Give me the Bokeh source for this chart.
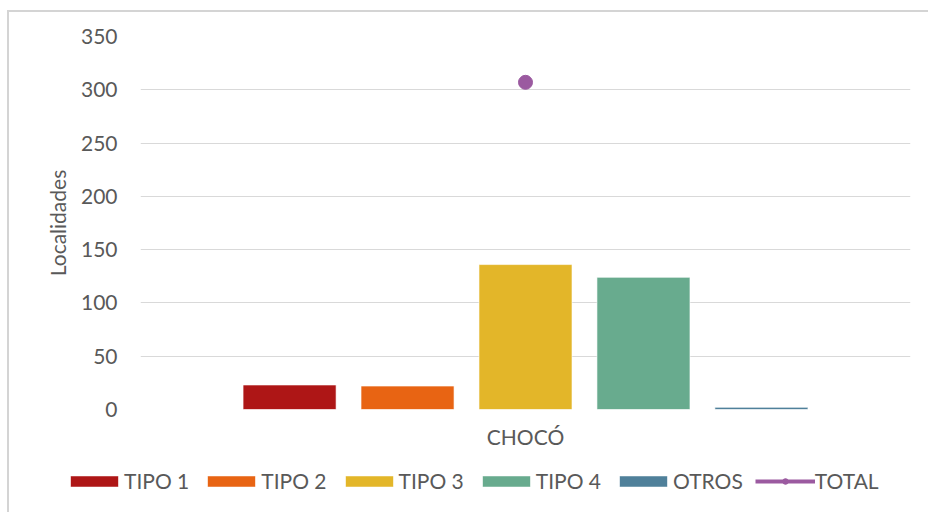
from bokeh.plotting import figure
from bokeh.layouts import column
from bokeh.models import ColumnDataSource, FactorRange, Range1d, Legend, LegendItem
from bokeh.transform import dodge
from bokeh.embed import file_html
from bokeh.resources import INLINE

# Localidades por tipo, departamento del Chocó
departments = ["CHOCÓ"]
series_names = ["TIPO 1", "TIPO 2", "TIPO 3", "TIPO 4", "OTROS"]
tipo_1 = [23]
tipo_2 = [22]
tipo_3 = [136]
tipo_4 = [124]
otros = [2]
total = [307]
y_ticks = [0, 50, 100, 150, 200, 250, 300, 350]

series_values = [tipo_1, tipo_2, tipo_3, tipo_4, otros]
colors = ["#AE1616", "#E86413", "#E3B629", "#68AB8E", "#4F809A"]
total_color = "#9B5AA0"

FONT = "Lato"
TEXT = "#595959"
GRID = "#D9D9D9"
FS = "21px"
W = 919

x_range = FactorRange(*departments)
step = 0.1532
bar_w = 0.1208

# main chart
p = figure(
    width=W, height=445,
    x_range=x_range, y_range=Range1d(0, 350),
    output_backend="svg", toolbar_location=None,
    min_border_left=131, min_border_right=18,
    min_border_top=24, min_border_bottom=48,
)
p.background_fill_color = "white"
p.border_fill_color = "white"
p.outline_line_color = None
p.frame_align = False

# legend strip below the chart; its frame holds only the legend
leg = figure(
    width=W, height=55,
    x_range=x_range, y_range=Range1d(1000, 1001),
    output_backend="svg", toolbar_location=None,
    min_border=0, x_axis_location=None, y_axis_location=None,
)
leg.background_fill_color = "white"
leg.border_fill_color = "white"
leg.outline_line_color = None
leg.grid.visible = False
leg.frame_align = False

items = []
for i, (name, vals, col) in enumerate(zip(series_names, series_values, colors)):
    src = ColumnDataSource(dict(dept=departments, value=vals))
    kw = dict(x=dodge("dept", (i - 2) * step, range=x_range), top="value",
              width=bar_w, source=src, fill_color=col,
              line_color="white", line_alpha=0.6, line_width=1)
    p.vbar(**kw)
    r = leg.vbar(**kw)
    items.append(LegendItem(label=name, renderers=[r]))

tsrc = ColumnDataSource(dict(dept=departments, value=total))
p.scatter(x="dept", y="value", source=tsrc, size=14, marker="circle",
          fill_color=total_color, line_color=total_color)
tl = leg.line(x="dept", y="value", source=tsrc, line_color=total_color, line_width=4)
td = leg.scatter(x="dept", y="value", source=tsrc, size=14, marker="circle",
                 fill_color=total_color, line_color=total_color)
items.append(LegendItem(label="TOTAL", renderers=[tl, td]))

# axes and grid
p.xgrid.grid_line_color = None
p.ygrid.grid_line_color = GRID
p.ygrid.grid_line_width = 1
p.yaxis.ticker = y_ticks
for ax in (p.xaxis[0], p.yaxis[0]):
    ax.axis_line_color = None
    ax.major_tick_line_color = None
    ax.minor_tick_line_color = None
    ax.major_label_text_font = FONT
    ax.major_label_text_font_size = FS
    ax.major_label_text_color = TEXT
p.yaxis.major_label_standoff = 17
p.xaxis.major_label_standoff = 8
p.yaxis.axis_label = "Localidades"
p.yaxis.axis_label_text_font = FONT
p.yaxis.axis_label_text_font_size = FS
p.yaxis.axis_label_text_font_style = "normal"
p.yaxis.axis_label_text_color = TEXT
p.yaxis.axis_label_standoff = 8

legend = Legend(
    items=items, orientation="horizontal", location=(55, 19),
    padding=0, margin=0, spacing=12, label_standoff=0,
    glyph_width=60, glyph_height=14,
    label_text_font=FONT, label_text_font_size=FS, label_text_color=TEXT,
    border_line_color=None, background_fill_alpha=0,
)
leg.add_layout(legend, "center")

layout = column(p, leg, spacing=0)
layout.styles = {
    "margin-left": "7px", "margin-top": "10px",
    "border-left": "2px solid #D4D4D4", "border-top": "2px solid #D4D4D4",
}

open("out.html", "w").write(file_html(layout, INLINE))
